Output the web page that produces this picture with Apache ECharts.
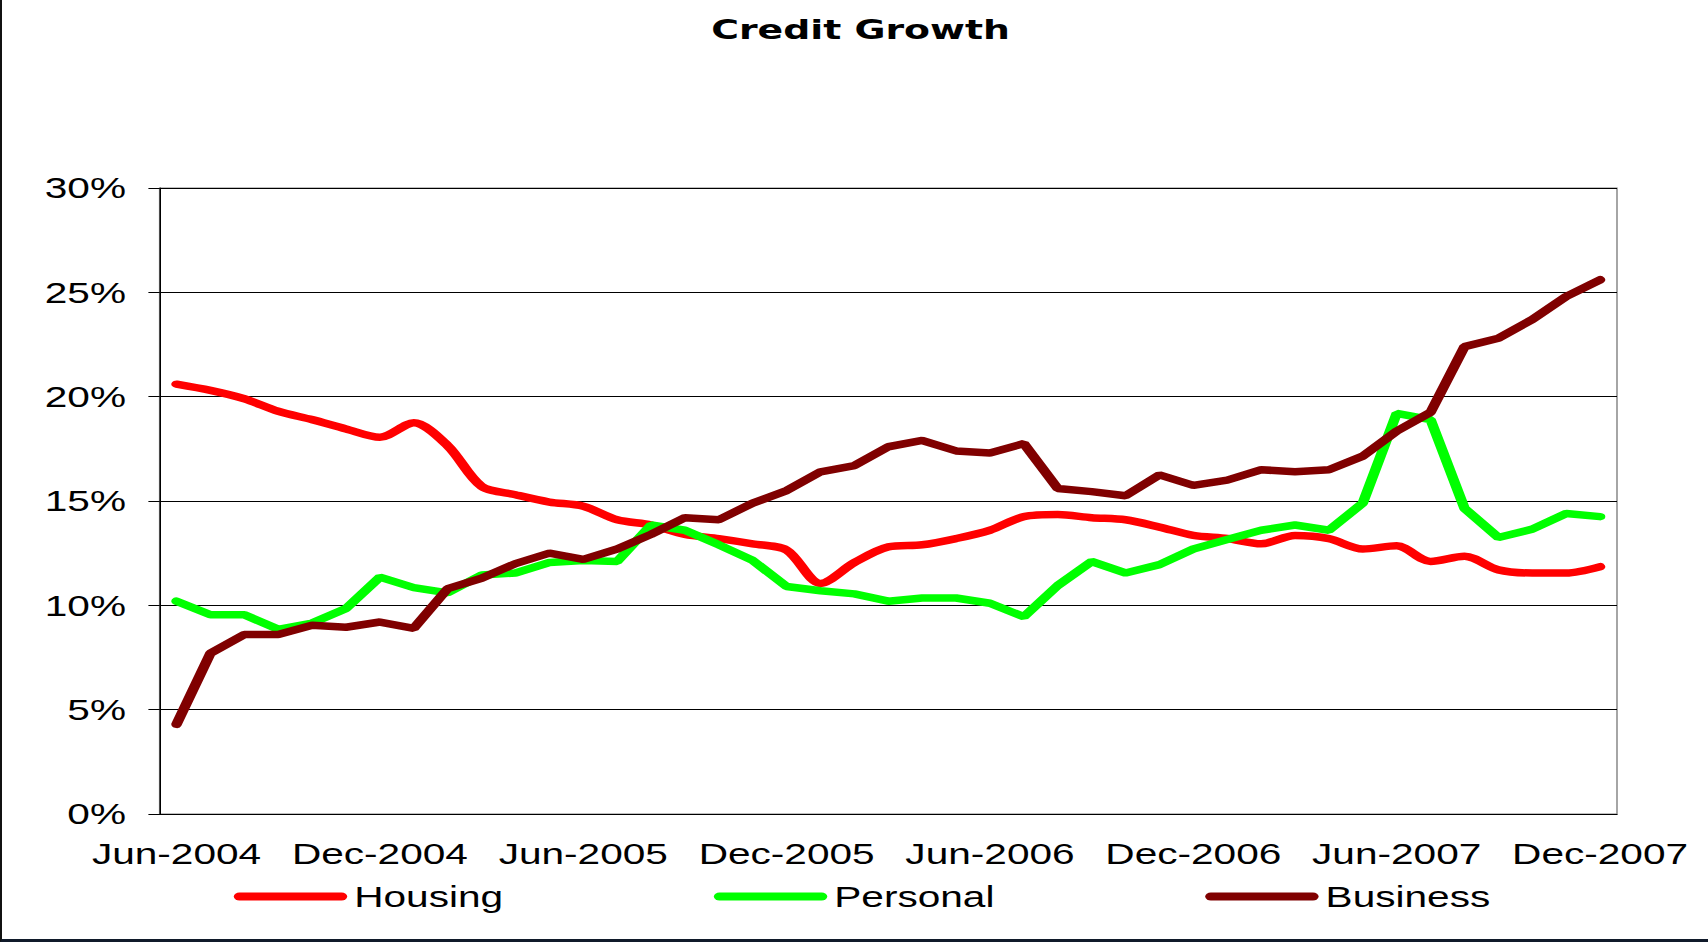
<!DOCTYPE html>
<html>
<head>
<meta charset="utf-8">
<title>Credit Growth</title>
<script src="https://cdn.jsdelivr.net/npm/echarts@6/dist/echarts.min.js"></script>
<style>
  html, body {
    margin: 0;
    padding: 0;
    background: #fff;
    overflow: hidden;
  }
  #page {
    position: relative;
    width: 1708px;
    height: 942px;
    overflow: hidden;
  }
  /* the original picture is stretched sideways, so the chart is too */
  #chart {
    position: absolute;
    left: 0;
    top: 0;
    width: 1220px;
    height: 942px;
    transform: scaleX(1.4);
    transform-origin: 0 0;
  }
  #frame {
    position: absolute;
    left: 0;
    top: 0;
    width: 1708px;
    height: 942px;
    box-sizing: border-box;
    border-left: 2px solid #111;
    border-bottom: 3px solid #101a2a;
    pointer-events: none;
  }
</style>
</head>
<body>
<div id="page">
  <div id="chart"></div>
  <div id="frame"></div>
</div>
<script>
// monthly, Jun-2004 .. Dec-2007
const months = [
  'Jun-2004', 'Jul-2004', 'Aug-2004', 'Sep-2004', 'Oct-2004', 'Nov-2004', 'Dec-2004',
  'Jan-2005', 'Feb-2005', 'Mar-2005', 'Apr-2005', 'May-2005', 'Jun-2005',
  'Jul-2005', 'Aug-2005', 'Sep-2005', 'Oct-2005', 'Nov-2005', 'Dec-2005',
  'Jan-2006', 'Feb-2006', 'Mar-2006', 'Apr-2006', 'May-2006', 'Jun-2006',
  'Jul-2006', 'Aug-2006', 'Sep-2006', 'Oct-2006', 'Nov-2006', 'Dec-2006',
  'Jan-2007', 'Feb-2007', 'Mar-2007', 'Apr-2007', 'May-2007', 'Jun-2007',
  'Jul-2007', 'Aug-2007', 'Sep-2007', 'Oct-2007', 'Nov-2007', 'Dec-2007'
]

// growth, %
const housing = [
  20.6, 20.3, 19.9, 19.3, 18.9, 18.45, 18.05, 18.75, 17.65, 15.7, 15.3, 14.95, 14.75,
  14.1, 13.85, 13.4, 13.2, 12.95, 12.65, 11.05, 12.05, 12.8, 12.9, 13.2, 13.6,
  14.25, 14.35, 14.2, 14.1, 13.75, 13.35, 13.2, 12.95, 13.35, 13.2, 12.7, 12.85,
  12.1, 12.35, 11.7, 11.55, 11.55, 11.85
]
const personal = [
  10.2, 9.55, 9.55, 8.85, 9.15, 9.85, 11.35, 10.85, 10.6, 11.45, 11.55, 12.05, 12.15,
  12.1, 13.85, 13.6, 12.9, 12.15, 10.9, 10.7, 10.55, 10.2, 10.35, 10.35, 10.1,
  9.45, 10.95, 12.1, 11.55, 11.95, 12.7, 13.15, 13.6, 13.85, 13.6, 14.9, 19.2,
  18.9, 14.65, 13.25, 13.65, 14.4, 14.25
]
const business = [
  4.3, 7.7, 8.6, 8.6, 9.05, 8.95, 9.2, 8.9, 10.8, 11.3, 12.0, 12.5, 12.2,
  12.7, 13.4, 14.2, 14.1, 14.9, 15.5, 16.4, 16.7, 17.6, 17.9, 17.4, 17.3,
  17.75, 15.6, 15.45, 15.25, 16.25, 15.75, 16.0, 16.5, 16.4, 16.5, 17.15, 18.35,
  19.25, 22.4, 22.8, 23.7, 24.8, 25.6
]

const font = 'Liberation Sans, Arial, sans-serif'
// legend key: a thick line with round ends (81 x 8)
const capsule = 'path://M4,0 L77,0 A4,4 0 0 1 77,8 L4,8 A4,4 0 0 1 4,0 Z'

const chart = echarts.init(document.getElementById('chart'), null, { renderer: 'svg' })

const option = {
  animation: false,
  backgroundColor: '#fff',
  title: {
    text: 'Credit Growth',
    left: 503,
    top: 11,
    textStyle: {
      fontFamily: 'DejaVu Sans, sans-serif',
      fontSize: 27,
      fontWeight: 'bold',
      color: '#000',
    },
  },
  legend: {
    left: 162,
    top: 877,
    icon: capsule,
    itemWidth: 81,
    itemHeight: 8,
    itemGap: 150.5,
    textStyle: {
      fontFamily: font,
      fontSize: 29,
      color: '#000',
    },
    data: ['Housing', 'Personal', 'Business'],
  },
  grid: {
    left: 114,
    right: 65,
    top: 188,
    bottom: 128,
    show: true,
    borderColor: '#808080',
    borderWidth: 1,
  },
  xAxis: {
    type: 'category',
    boundaryGap: true,
    data: months,
    axisLine: { lineStyle: { color: '#000', width: 1 } },
    axisTick: {
      interval: 5,
      length: 8,
      lineStyle: { color: '#000' },
    },
    axisLabel: {
      interval: 5,
      margin: 25,
      fontFamily: font,
      fontSize: 29,
      color: '#000',
    },
  },
  yAxis: {
    type: 'value',
    min: 0,
    max: 30,
    interval: 5,
    axisLine: { show: true, lineStyle: { color: '#000', width: 1 } },
    axisTick: { show: true, length: 8, lineStyle: { color: '#000' } },
    axisLabel: {
      formatter: '{value}%',
      margin: 24,
      fontFamily: font,
      fontSize: 29,
      color: '#000',
    },
    splitLine: { lineStyle: { color: '#000', width: 1 } },
  },
  series: [
    {
      name: 'Housing',
      type: 'line',
      data: housing,
      smooth: 0.3,
      symbol: 'none',
      color: '#ff0000',
      lineStyle: { color: '#ff0000', width: 7.5, cap: 'round', join: 'round' },
    },
    {
      name: 'Personal',
      type: 'line',
      data: personal,
      symbol: 'none',
      color: '#00ff00',
      lineStyle: { color: '#00ff00', width: 7.5, cap: 'round' },
    },
    {
      name: 'Business',
      type: 'line',
      data: business,
      symbol: 'none',
      color: '#800000',
      lineStyle: { color: '#800000', width: 7.5, cap: 'round' },
    },
  ],
}

chart.setOption(option)
</script>
</body>
</html>
